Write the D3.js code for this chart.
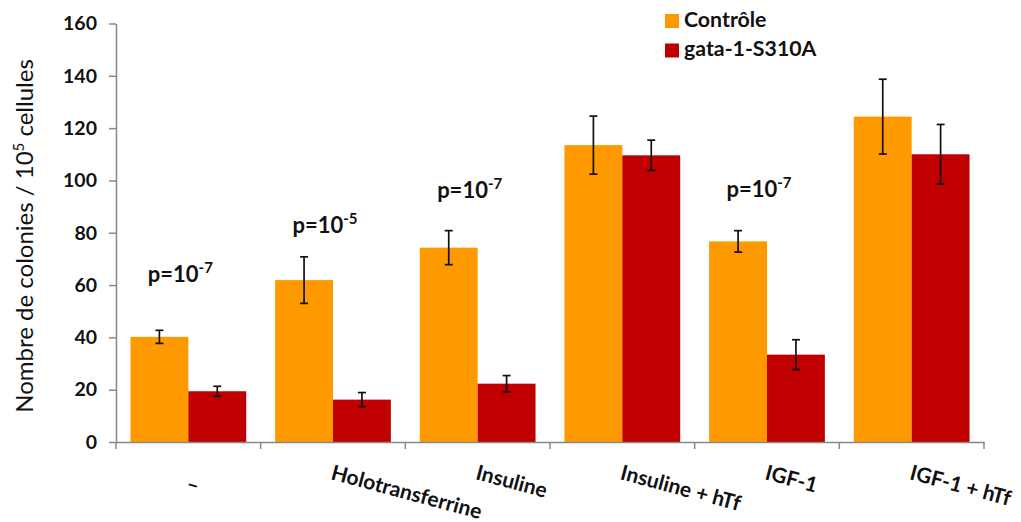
<!DOCTYPE html>
<html><head><meta charset="utf-8">
<script src="https://cdn.jsdelivr.net/npm/d3@7"></script>
<style>body{margin:0;background:#fff;} svg{display:block;}</style>
</head><body>
<svg id="c" width="1021" height="522"></svg>
<script>
const categories = ["–", "Holotransferrine", "Insuline", "Insuline + hTf", "IGF-1", "IGF-1 + hTf"];
const seriesNames = ["Contrôle", "gata-1-S310A"];
const controleValues = [40.2, 61.9, 74.3, 113.5, 76.7, 124.4];
const controleErrors = [2.5, 8.9, 6.5, 11.1, 4.1, 14.3];
const gataValues = [19.4, 16.2, 22.3, 109.6, 33.4, 110.0];
const gataErrors = [1.9, 2.7, 3.1, 5.8, 5.7, 11.4];
const yTicks = [0, 20, 40, 60, 80, 100, 120, 140, 160];
const pCategories = ["–", "Holotransferrine", "Insuline", "IGF-1"];
const pExponents = ["-7", "-5", "-7", "-7"];
const pLevels = [61.3, 79.8, 93.2, 93.8];
const colors = ["#FF9900", "#C00000"];

(function(){
const svg = d3.select("#c");
const FONT = "Lato, 'Open Sans', sans-serif";
const mLeft = 116, mRight = 984, mTop = 23.5, mBottom = 442;

const x = d3.scaleBand().domain(categories).range([mLeft, mRight]).paddingInner(0.2).paddingOuter(0.1);
const xs = d3.scaleBand().domain(seriesNames).range([0, x.bandwidth()]);
const y = d3.scaleLinear().domain([0, 160]).range([mBottom, mTop]);

const series = [
  {name: seriesNames[0], values: controleValues, errors: controleErrors, color: colors[0]},
  {name: seriesNames[1], values: gataValues, errors: gataErrors, color: colors[1]}
];

series.forEach(s => {
  svg.append("g").selectAll("rect").data(categories).join("rect")
    .attr("x", (c) => x(c) + xs(s.name))
    .attr("width", xs.bandwidth())
    .attr("y", (c, i) => y(s.values[i]))
    .attr("height", (c, i) => y(0) - y(s.values[i]))
    .attr("fill", s.color);
});

series.forEach(s => {
  const g = svg.append("g").attr("stroke", "#111").attr("stroke-width", 1.7);
  categories.forEach((c, i) => {
    const cx = x(c) + xs(s.name) + xs.bandwidth() / 2;
    const hi = y(s.values[i] + s.errors[i]), lo = y(s.values[i] - s.errors[i]);
    g.append("line").attr("x1", cx).attr("x2", cx).attr("y1", hi).attr("y2", lo);
    g.append("line").attr("x1", cx - 4).attr("x2", cx + 4).attr("y1", hi).attr("y2", hi);
    g.append("line").attr("x1", cx - 4).attr("x2", cx + 4).attr("y1", lo).attr("y2", lo);
  });
});

const yAxis = svg.append("g").attr("transform", `translate(${mLeft},0)`)
  .call(d3.axisLeft(y).tickValues(yTicks).tickSize(7).tickPadding(12).tickSizeOuter(0));
yAxis.selectAll("path, line").attr("stroke", "#888").attr("stroke-width", 1.5);
yAxis.selectAll("text").attr("font-family", FONT).attr("font-weight", "bold")
  .attr("font-size", 19.5).attr("fill", "#111");

const xAxis = svg.append("g").attr("transform", `translate(0,${mBottom})`)
  .call(d3.axisBottom(x).tickSize(0).tickSizeOuter(0).tickPadding(0));
xAxis.select("path").attr("stroke", "#888").attr("stroke-width", 1.5);
const boundaries = categories.map(c => x(c) - x.paddingInner() * x.step() / 2)
  .concat([x(categories[categories.length - 1]) + x.bandwidth() + x.paddingInner() * x.step() / 2]);
xAxis.selectAll("line.bnd").data(boundaries).join("line").attr("class", "bnd")
  .attr("x1", d => d).attr("x2", d => d).attr("y1", 0).attr("y2", 7)
  .attr("stroke", "#888").attr("stroke-width", 1.5);
xAxis.selectAll(".tick text")
  .attr("font-family", FONT).attr("font-weight", "bold").attr("font-size", 21).attr("fill", "#111")
  .attr("text-anchor", "start").attr("y", 0).attr("x", 0).attr("dy", 0)
  .attr("transform", d => `translate(-3,${d === "–" ? 48 : 37}) rotate(15)`);

svg.append("text").attr("transform", `translate(33,236) rotate(-90)`)
  .attr("text-anchor", "middle").attr("font-family", FONT).attr("font-size", 24).attr("fill", "#111")
  .call(t => {
    t.append("tspan").text("Nombre de colonies / 10");
    t.append("tspan").attr("dy", -9).attr("font-size", 15).text("5");
    t.append("tspan").attr("dy", 9).text(" cellules");
  });

pCategories.forEach((c, i) => {
  const t = svg.append("text").attr("x", x(c) + x.bandwidth() / 2 - 8).attr("y", y(pLevels[i]))
    .attr("text-anchor", "middle").attr("font-family", FONT).attr("font-weight", "bold")
    .attr("font-size", 22).attr("fill", "#111");
  t.append("tspan").text("p=10");
  t.append("tspan").attr("dy", -9).attr("font-size", 15).text(pExponents[i]);
});

const lg = svg.append("g");
series.forEach((s, i) => {
  lg.append("rect").attr("x", 665).attr("y", 14 + i * 29.5).attr("width", 14).attr("height", 14).attr("fill", s.color);
  lg.append("text").attr("x", 684).attr("y", 26.7 + i * 29.5).attr("font-family", FONT).attr("font-weight", "bold")
    .attr("font-size", 21.3).attr("fill", "#111").text(s.name);
});
})();
</script>
</body></html>
